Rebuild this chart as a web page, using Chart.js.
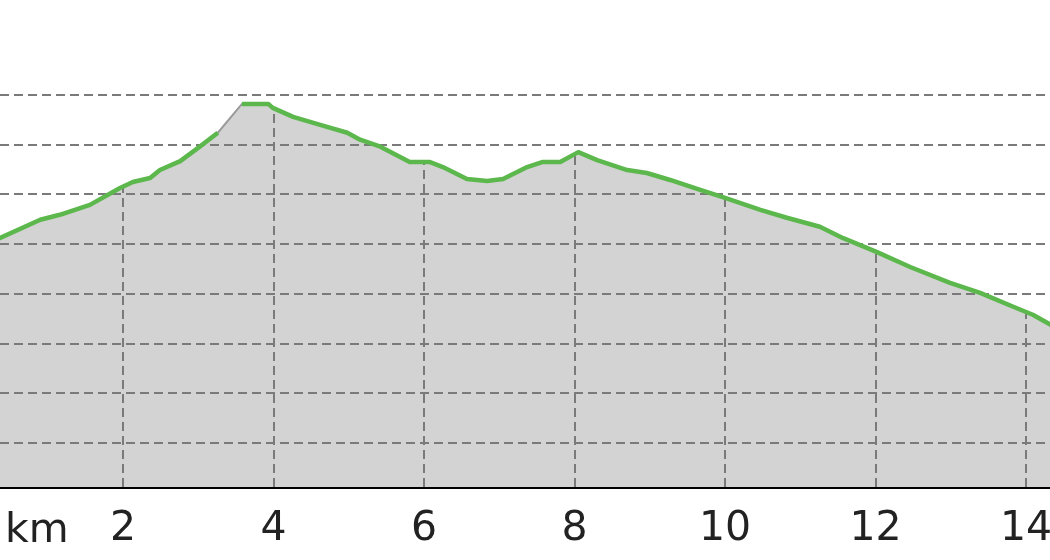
<!DOCTYPE html>
<html><head><meta charset="utf-8">
<script src="https://cdn.jsdelivr.net/npm/chart.js@4.4.0/dist/chart.umd.min.js"></script>
<style>html,body{margin:0;padding:0;background:#fff}#wrap{width:1050px;height:560px;position:relative}</style>
</head><body><div id="wrap"><canvas id="c"></canvas></div>
<script>
// Distance along the route (km)
const distanceKm = [0.33,0.90,1.16,1.56,1.96,2.13,2.36,2.49,2.76,3.02,3.26,3.58,3.93,3.99,4.26,4.62,4.98,5.15,5.42,5.81,6.08,6.25,6.57,6.84,7.05,7.37,7.57,7.81,8.05,8.30,8.70,8.96,9.27,9.67,10.00,10.47,10.82,11.26,11.57,12.02,12.46,12.99,13.39,13.83,14.09,14.36];
// Elevation (m)
const elevationM = [510,549,559,579,613,625,633,649,667,696,724,782,782,774,756,740,724,710,696,665,665,655,631,627,631,655,665,665,685,669,649,643,629,609,593,569,553,535,512,484,454,422,402,374,358,335];
// Stretch without a recorded track (drawn grey instead of green)
const untrackedKm = [3.26, 3.58];
const xTickValues = [2,4,6,8,10,12,14];
const yGridValues = [100,200,300,400,500,600,700,800];
const unitLabel = 'km';
const xRange = [0.365, 14.318];
const yRange = [11.5, 991];

const profilePoints = distanceKm.map((d,i)=>({x:d,y:elevationM[i]}));
const trackPoints = [];
distanceKm.forEach((d,i)=>{
  trackPoints.push({x:d,y:elevationM[i]});
  if (d === untrackedKm[0]) trackPoints.push({x:d,y:null});
});

Chart.defaults.font.family = "'DejaVu Sans', sans-serif";

const gridPlugin = {
  id:'profileGrid',
  afterDatasetDraw(chart, args){
    if (args.index !== 1) return;
    const {ctx, chartArea, scales:{x,y}} = chart;
    const pts = chart.getDatasetMeta(1).data;
    ctx.save();
    ctx.beginPath();
    ctx.rect(chartArea.left, chartArea.top, chartArea.right-chartArea.left, chartArea.bottom-chartArea.top);
    ctx.clip();
    ctx.strokeStyle = '#7a7a7a';
    ctx.lineWidth = 2;
    ctx.setLineDash([9,5]);
    yGridValues.forEach(v=>{
      const py = Math.round(y.getPixelForValue(v));
      ctx.beginPath(); ctx.moveTo(chartArea.left, py); ctx.lineTo(chartArea.right, py); ctx.stroke();
    });
    x.ticks.forEach(t=>{
      const px = Math.round(x.getPixelForValue(t.value));
      let top = chartArea.top;
      for (let i=0;i<pts.length-1;i++){
        if (pts[i].x <= px && pts[i+1].x >= px){
          const f = (px-pts[i].x)/((pts[i+1].x-pts[i].x)||1);
          top = pts[i].y + f*(pts[i+1].y-pts[i].y);
          break;
        }
      }
      ctx.beginPath(); ctx.moveTo(px, chartArea.bottom); ctx.lineTo(px, top); ctx.stroke();
    });
    ctx.restore();
  },
  afterDraw(chart){
    const {ctx} = chart;
    ctx.save();
    ctx.fillStyle = '#222';
    ctx.font = "41px 'DejaVu Sans'";
    ctx.textAlign = 'left';
    ctx.textBaseline = 'alphabetic';
    ctx.fillText(unitLabel, 5, 542);
    ctx.restore();
  }
};

new Chart(document.getElementById('c'), {
  type:'line',
  data:{datasets:[
    {data:trackPoints, borderColor:'#5cb84c', borderWidth:4.5, pointRadius:0, fill:false, spanGaps:false, tension:0, borderJoinStyle:'round', clip:0},
    {data:profilePoints, borderColor:'#9a9a9a', borderWidth:2, pointRadius:0, fill:'start', backgroundColor:'#d3d3d3', tension:0, clip:0}
  ]},
  options:{
    responsive:true, maintainAspectRatio:false, animation:false,
    layout:{padding:0},
    plugins:{legend:{display:false}, tooltip:{enabled:false}},
    scales:{
      x:{type:'linear', min:xRange[0], max:xRange[1], z:1,
        afterBuildTicks:(s)=>{ s.ticks = xTickValues.map(v=>({value:v})); },
        afterFit:(s)=>{ s.height = 73; s.paddingLeft = 0; s.paddingRight = 0; },
        grid:{display:false, drawTicks:false},
        border:{display:true, color:'#000', width:3},
        ticks:{color:'#222', font:{size:41}, padding:18, maxRotation:0, autoSkip:false}
      },
      y:{type:'linear', min:yRange[0], max:yRange[1], display:false}
    }
  },
  plugins:[gridPlugin]
});
</script></body></html>
